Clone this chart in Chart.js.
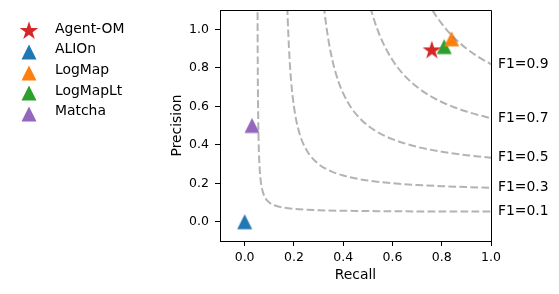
<!DOCTYPE html>
<html>
<head>
<meta charset="utf-8">
<script src="https://cdn.jsdelivr.net/npm/chart.js@4"></script>
<style>
  html, body { margin: 0; padding: 0; background: #fff; }
  #wrap { width: 559px; height: 294px; }
</style>
</head>
<body>
<div id="wrap"><canvas id="f1Chart" width="559" height="294"></canvas></div>
<script>
// matcher results (recall / precision)
const systems = ['Agent-OM', 'ALIOn', 'LogMap', 'LogMapLt', 'Matcha'];
const recall = [0.76, 0.0, 0.84, 0.81, 0.03];
const precision = [0.89, 0.0, 0.95, 0.91, 0.50];

// iso-F1 curves, points
const isoLabels = ['F1=0.1', 'F1=0.3', 'F1=0.5', 'F1=0.7', 'F1=0.9'];
const iso01Recall = [0.0515, 0.052, 0.053, 0.055, 0.058, 0.062, 0.067, 0.075, 0.085, 0.1, 0.12, 0.15, 0.2, 0.3, 0.45, 0.6, 0.8, 1.0];
const iso01Precision = [1.717, 1.3, 0.883, 0.55, 0.3625, 0.258, 0.197, 0.15, 0.121, 0.1, 0.0857, 0.075, 0.0667, 0.06, 0.0563, 0.0545, 0.0533, 0.0526];
const iso03Recall = [0.168, 0.171, 0.175, 0.185, 0.2, 0.22, 0.25, 0.3, 0.35, 0.4, 0.5, 0.6, 0.7, 0.8, 0.9, 1.0];
const iso03Precision = [1.4, 1.221, 1.05, 0.793, 0.6, 0.471, 0.375, 0.3, 0.263, 0.24, 0.214, 0.2, 0.191, 0.185, 0.18, 0.176];
const iso05Recall = [0.31, 0.32, 0.33, 0.35, 0.38, 0.42, 0.47, 0.53, 0.6, 0.7, 0.8, 0.9, 1.0];
const iso05Precision = [1.292, 1.143, 1.031, 0.875, 0.731, 0.618, 0.534, 0.473, 0.429, 0.389, 0.364, 0.346, 0.333];
const iso07Recall = [0.49, 0.5, 0.52, 0.55, 0.6, 0.65, 0.7, 0.75, 0.8, 0.85, 0.9, 0.95, 1.0];
const iso07Precision = [1.225, 1.167, 1.071, 0.963, 0.84, 0.758, 0.7, 0.656, 0.622, 0.595, 0.573, 0.554, 0.538];
const iso09Recall = [0.74, 0.75, 0.78, 0.8, 0.82, 0.85, 0.875, 0.9, 0.95, 1.0];
const iso09Precision = [1.148, 1.125, 1.064, 1.029, 0.997, 0.956, 0.926, 0.9, 0.855, 0.818];

const xTicks = [0.0, 0.2, 0.4, 0.6, 0.8, 1.0];
const yTicks = [0.0, 0.2, 0.4, 0.6, 0.8, 1.0];

const FONT = 'DejaVu Sans';
const markerColors = ['#d62728', '#1f77b4', '#ff7f0e', '#2ca02c', '#9467bd'];

// matplotlib-like markers drawn into small canvases
function makeTriangle(color) {
    const c = document.createElement('canvas');
    c.width = 20; c.height = 20;
    const g = c.getContext('2d');
    g.fillStyle = color;
    g.beginPath();
    g.moveTo(10, 2.5);
    g.lineTo(2.5, 17.5);
    g.lineTo(17.5, 17.5);
    g.closePath();
    g.fill();
    return c;
}

function makeStar(color) {
    const c = document.createElement('canvas');
    c.width = 24; c.height = 24;
    const g = c.getContext('2d');
    g.fillStyle = color;
    g.beginPath();
    for (let i = 0; i < 10; i++) {
        const r = i % 2 === 0 ? 9.8 : 3.75;
        const a = -Math.PI / 2 + i * Math.PI / 5;
        const px = 12 + r * Math.cos(a);
        const py = 12 + r * Math.sin(a);
        if (i === 0) g.moveTo(px, py); else g.lineTo(px, py);
    }
    g.closePath();
    g.fill();
    return c;
}

const markerImgs = markerColors.map((c, i) => i === 0 ? makeStar(c) : makeTriangle(c));

const isoSets = [
    [iso01Recall, iso01Precision],
    [iso03Recall, iso03Precision],
    [iso05Recall, iso05Precision],
    [iso07Recall, iso07Precision],
    [iso09Recall, iso09Precision]
];

const curveDatasets = isoSets.map(([r, p], i) => ({
    label: isoLabels[i],
    data: r.map((x, j) => ({ x: x, y: p[j] })),
    showLine: true,
    borderColor: 'rgba(128, 128, 128, 0.6)',
    borderWidth: 2,
    borderDash: [7.7, 3.3],
    pointRadius: 0,
    pointHoverRadius: 0,
    cubicInterpolationMode: 'monotone',
    fill: false
}));

const pointDatasets = systems.map((name, i) => ({
    label: name,
    data: [{ x: recall[i], y: precision[i] }],
    pointStyle: markerImgs[i],
    pointRadius: 8,
    pointHoverRadius: 8,
    showLine: false
}));

// top + right spines
const framePlugin = {
    id: 'frame',
    afterDraw(chart) {
        const { ctx, chartArea } = chart;
        const l = Math.round(chartArea.left) + 0.5;
        const r = Math.round(chartArea.right) + 0.5;
        const t = Math.round(chartArea.top) + 0.5;
        const b = Math.round(chartArea.bottom) + 0.5;
        ctx.save();
        ctx.strokeStyle = '#000';
        ctx.lineWidth = 1;
        ctx.beginPath();
        ctx.moveTo(l, t);
        ctx.lineTo(r, t);
        ctx.lineTo(r, b);
        ctx.stroke();
        ctx.restore();
    }
};

// F1 labels at the end of each curve
const isoLabelPlugin = {
    id: 'isoLabels',
    afterDraw(chart) {
        const { ctx, chartArea } = chart;
        const yScale = chart.scales.y;
        ctx.save();
        ctx.font = `13.9px "${FONT}"`;
        ctx.fillStyle = '#000';
        ctx.textAlign = 'left';
        ctx.textBaseline = 'middle';
        isoSets.forEach(([r, p], i) => {
            const y = yScale.getPixelForValue(p[p.length - 1]);
            ctx.fillText(isoLabels[i], chartArea.right + 7, y);
        });
        ctx.restore();
    }
};

// legend sitting left of the axes
const sideLegendPlugin = {
    id: 'sideLegend',
    afterDraw(chart) {
        const ctx = chart.ctx;
        ctx.save();
        ctx.font = `13.9px "${FONT}"`;
        ctx.fillStyle = '#000';
        ctx.textAlign = 'left';
        ctx.textBaseline = 'middle';
        systems.forEach((name, i) => {
            const y = 29.2 + i * 20.65;
            const img = markerImgs[i];
            ctx.drawImage(img, Math.round(29.3 - img.width / 2), Math.round(y + 2 - img.height / 2));
            ctx.fillText(name, 55, y);
        });
        ctx.restore();
    }
};

const ctx = document.getElementById('f1Chart').getContext('2d');
new Chart(ctx, {
    type: 'scatter',
    data: {
        datasets: [...curveDatasets, ...pointDatasets]
    },
    options: {
        responsive: false,
        devicePixelRatio: 1,
        animation: false,
        layout: {
            padding: { left: 160, right: 68, top: 10, bottom: 0 }
        },
        plugins: {
            legend: { display: false },
            tooltip: { enabled: false }
        },
        scales: {
            x: {
                type: 'linear',
                min: -0.1,
                max: 1.0,
                afterBuildTicks: s => { s.ticks = xTicks.map(v => ({ value: v })); },
                afterFit: s => {
                    s.height = 53;
                    s.paddingLeft = 0; s.paddingRight = 0;
                    s.paddingTop = 0; s.paddingBottom = 0;
                },
                ticks: {
                    callback: v => Number(v).toFixed(1),
                    color: '#000',
                    font: { family: FONT, size: 12.5 },
                    padding: 4,
                    autoSkip: false,
                    maxRotation: 0
                },
                grid: { drawOnChartArea: false, tickLength: 5, tickColor: '#000', tickWidth: 1 },
                border: { color: '#000', width: 1 },
                title: {
                    display: true,
                    text: 'Recall',
                    color: '#000',
                    font: { family: FONT, size: 13.9 },
                    padding: { top: 0, bottom: 10 }
                }
            },
            y: {
                type: 'linear',
                min: -0.1,
                max: 1.1,
                afterBuildTicks: s => { s.ticks = yTicks.map(v => ({ value: v })); },
                afterFit: s => {
                    s.width = 60;
                    s.paddingLeft = 0; s.paddingRight = 0;
                    s.paddingTop = 0; s.paddingBottom = 0;
                },
                ticks: {
                    callback: v => Number(v).toFixed(1),
                    color: '#000',
                    font: { family: FONT, size: 12.5 },
                    padding: 6,
                    autoSkip: false
                },
                grid: { drawOnChartArea: false, tickLength: 5, tickColor: '#000', tickWidth: 1 },
                border: { color: '#000', width: 1 },
                title: {
                    display: true,
                    text: 'Precision',
                    color: '#000',
                    font: { family: FONT, size: 13.9 },
                    padding: { top: 9.2, bottom: 0 }
                }
            }
        }
    },
    plugins: [framePlugin, isoLabelPlugin, sideLegendPlugin]
});
</script>
</body>
</html>
